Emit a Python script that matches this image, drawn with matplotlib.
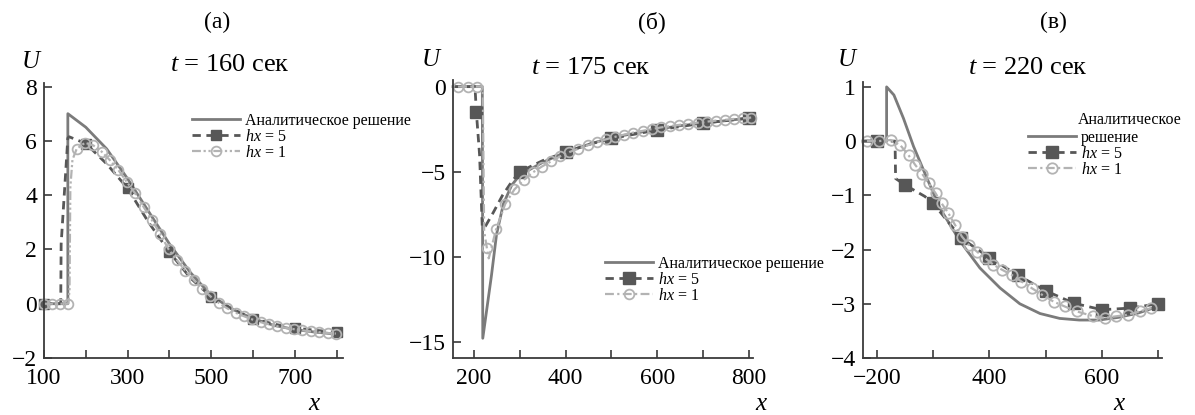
import numpy as np
import matplotlib.pyplot as plt
from matplotlib.lines import Line2D

plt.rcParams['font.family'] = ['Liberation Serif', 'DejaVu Serif']
plt.rcParams['mathtext.fontset'] = 'custom'
plt.rcParams['mathtext.rm'] = 'Liberation Serif'
plt.rcParams['mathtext.it'] = 'Liberation Serif:italic'

# ---- panel (а), t = 160
ana_a_x = [100, 157, 157, 200, 250, 300, 350, 400, 450, 500, 550, 600, 650, 700, 750, 800]
ana_a_y = [0, 0, 7.0, 6.5, 5.7, 4.6, 3.4, 2.2, 1.15, 0.3, -0.2, -0.55, -0.8, -0.95, -1.05, -1.12]
hx5_a_x = [100, 140, 141, 157, 160, 200, 250, 300, 350, 400, 450, 500, 550, 600, 650, 700, 750, 800]
hx5_a_y = [0, 0, 2.2, 6.1, 6.15, 5.9, 5.15, 4.25, 3.0, 1.9, 0.95, 0.25, -0.2, -0.55, -0.75, -0.9, -0.98, -1.05]
hx5_a_marks = [100, 200, 300, 400, 500, 600, 700, 800]
hx1_a_x = [100, 118, 138, 158, 161, 163, 168, 178, 198, 218, 238, 258, 278, 298, 318, 338, 358, 378,
           398, 418, 438, 458, 478, 498, 518, 538, 558, 578, 598, 618, 638, 658, 678, 698, 718, 738,
           758, 778, 798]
hx1_a_y = [0, 0, 0, 0, 0.5, 4.3, 5.3, 5.7, 5.93, 5.83, 5.6, 5.28, 4.92, 4.49, 4.06, 3.57, 3.08, 2.57,
           2.0, 1.6, 1.22, 0.87, 0.55, 0.27, 0.03, -0.17, -0.33, -0.46, -0.58, -0.68, -0.76, -0.83,
           -0.89, -0.94, -0.98, -1.02, -1.05, -1.08, -1.1]
hx1_a_nomark = [161, 163, 168]

# ---- panel (б), t = 175
ana_b_x = [154, 218, 219, 238, 249, 264, 282, 300, 350, 400, 450, 500, 550, 600, 650, 700, 750, 800]
ana_b_y = [0, 0, -14.8, -11.1, -8.7, -6.9, -5.8, -5.2, -4.45, -3.85, -3.4, -3.0, -2.75, -2.5, -2.3,
           -2.15, -2.0, -1.85]
hx5_b_x = [154, 202, 205, 212, 218, 225, 242, 262, 282, 300, 350, 400, 450, 500, 550, 600, 650, 700,
           750, 800]
hx5_b_y = [0, 0, -1.5, -4.0, -8.3, -8.2, -7.4, -6.4, -5.6, -5.0, -4.35, -3.85, -3.4, -3.05, -2.8,
           -2.55, -2.35, -2.15, -2.0, -1.85]
hx5_b_marks = [205, 300, 400, 500, 600, 700, 800]
hx1_b_x = [165, 187, 207, 219, 222, 228, 232, 248, 268, 288, 308, 328, 348, 368, 388, 408, 428, 448,
           468, 488, 508, 528, 548, 568, 588, 608, 628, 648, 668, 688, 708, 728, 748, 768, 788, 805]
hx1_b_y = [0, 0, 0, 0, -8.5, -9.5, -10.1, -8.4, -6.9, -6.05, -5.5, -5.05, -4.7, -4.4, -4.1, -3.85,
           -3.65, -3.45, -3.27, -3.1, -2.95, -2.82, -2.7, -2.6, -2.5, -2.4, -2.32, -2.25, -2.18,
           -2.12, -2.06, -2.0, -1.95, -1.9, -1.86, -1.82]
hx1_b_nomark = [219, 222, 232]

# ---- panel (в), t = 220
ana_c_x = [175, 217, 217, 230, 247, 265, 289, 312, 348, 383, 419, 454, 490, 525, 560, 595, 630, 665, 700]
ana_c_y = [0, 0, 1.0, 0.85, 0.42, -0.1, -0.69, -1.24, -1.85, -2.34, -2.71, -3.0, -3.18, -3.27, -3.3,
           -3.3, -3.25, -3.17, -3.05]
hx5_c_x = [175, 200, 232, 233, 250, 270, 285, 300, 350, 400, 450, 500, 550, 600, 650, 700]
hx5_c_y = [0, 0, 0, -0.69, -0.81, -0.93, -1.02, -1.15, -1.79, -2.15, -2.47, -2.76, -2.99, -3.11,
           -3.08, -3.0]
hx5_c_marks = [200, 250, 300, 350, 400, 450, 500, 550, 600, 650, 700]
hx1_c_x = [182, 203, 224, 241, 256, 268, 280, 292, 304, 315, 327, 339, 351, 363, 378, 392, 407, 422,
           440, 457, 475, 493, 514, 534, 555, 585, 605, 626, 647, 667, 688]
hx1_c_y = [0, 0, 0.02, -0.07, -0.26, -0.44, -0.6, -0.78, -0.96, -1.15, -1.33, -1.55, -1.76, -1.91,
           -2.04, -2.16, -2.28, -2.37, -2.47, -2.59, -2.71, -2.83, -2.96, -3.05, -3.14, -3.23, -3.26,
           -3.23, -3.2, -3.14, -3.08]
hx1_c_nomark = []

W, H = 1195, 415
c_ana = '#7b7b7b'
c_h5 = '#575757'
c_h1 = '#b3b3b3'

fig = plt.figure(figsize=(W / 100, H / 100), dpi=100)


def px(x, y):
    return x / W, 1 - y / H


def panel(box, xlim, ylim, xticks, xlabels, yticks, ana, h5, h5marks, h1, h1nomark, h1dash,
          ms5, ms1, leg_at, ana_label):
    l, t, r, b = box
    ax = fig.add_axes([l / W, 1 - b / H, (r - l) / W, (b - t) / H])
    ax.plot(ana[0], ana[1], color=c_ana, lw=2.0, clip_on=False)
    i5 = np.flatnonzero(np.isin(h5[0], h5marks))
    ax.plot(h5[0], h5[1], color=c_h5, lw=2.0, dashes=(3, 2), marker='s', ms=ms5, mfc=c_h5,
            mec=c_h5, markevery=list(i5), clip_on=False)
    i1 = np.flatnonzero(~np.isin(h1[0], h1nomark))
    ax.plot(h1[0], h1[1], color=c_h1, lw=1.6, dashes=h1dash, marker='o', ms=ms1, mfc='none',
            mec=c_h1, mew=1.3, markevery=list(i1), clip_on=False)
    ax.set_xlim(*xlim)
    ax.set_ylim(*ylim)
    ax.set_xticks(xticks)
    ax.set_xticklabels(xlabels)
    ax.set_yticks(yticks)
    for s in ['top', 'right']:
        ax.spines[s].set_visible(False)
    for s in ['left', 'bottom']:
        ax.spines[s].set_color('#3a3a3a')
        ax.spines[s].set_linewidth(1.3)
    ax.tick_params(direction='in', length=6, width=1.2, color='#3a3a3a', labelsize=17, pad=5)
    ax.tick_params(axis='x', pad=7)

    handles = [
        Line2D([], [], color=c_ana, lw=2.0),
        Line2D([], [], color=c_h5, lw=2.0, dashes=(3, 2), marker='s', ms=ms5, mfc=c_h5, mec=c_h5),
        Line2D([], [], color=c_h1, lw=1.6, dashes=h1dash, marker='o', ms=ms1, mfc='none', mec=c_h1,
               mew=1.3),
    ]
    labels = [ana_label, r'$hx$ = 5', r'$hx$ = 1']
    ax.legend(handles, labels, loc='upper left', bbox_to_anchor=px(*leg_at),
              bbox_transform=fig.transFigure, frameon=False, fontsize=11.5, numpoints=1,
              handlelength=3.0, handletextpad=0.3, labelspacing=0.0, borderpad=0,
              borderaxespad=0)
    return ax


panel((44, 83, 343, 358), (100, 815), (-2, 8.13), [100, 200, 300, 400, 500, 600, 700, 800],
      ['100', '', '300', '', '500', '', '700', ''], [-2, 0, 2, 4, 6, 8],
      (ana_a_x, ana_a_y), (hx5_a_x, hx5_a_y), hx5_a_marks, (hx1_a_x, hx1_a_y), hx1_a_nomark,
      (4, 1.2, 1, 1.2, 1, 1.2), 7.5, 7, (192, 113), 'Аналитическое решение')

panel((453, 80, 753, 358), (154, 809), (-15.96, 0.39), [200, 300, 400, 500, 600, 700, 800],
      ['200', '', '400', '', '600', '', '800'], [-15, -10, -5, 0],
      (ana_b_x, ana_b_y), (hx5_b_x, hx5_b_y), hx5_b_marks, (hx1_b_x, hx1_b_y), hx1_b_nomark,
      (4, 1.5, 1, 1.5), 8, 7, (605, 256), 'Аналитическое решение')

# panel (в): the legend's first label sits on two lines, with the handle next to the lower one
panel((863, 82, 1162, 358), (175, 707), (-4, 1.09), [200, 300, 400, 500, 600, 700],
      ['\u2212200', '', '400', '', '600', ''], [-4, -3, -2, -1, 0, 1],
      (ana_c_x, ana_c_y), (hx5_c_x, hx5_c_y), hx5_c_marks, (hx1_c_x, hx1_c_y), hx1_c_nomark,
      (4, 1.5, 1, 1.5), 8.5, 7.5, (1028, 130), 'решение')
fig.text(*px(1078, 120), 'Аналитическое', ha='left', va='center', fontsize=11.5)

for (x, y, s) in [(217, 22, '(а)'), (652, 22, '(б)'), (1053, 22, '(в)')]:
    fig.text(*px(x, y), s, ha='center', va='center', fontsize=17)
for (x, y, s) in [(230, 65, r'$t$ = 160 сек'), (591, 68, r'$t$ = 175 сек'), (1028, 68, r'$t$ = 220 сек')]:
    fig.text(*px(x, y), s, ha='center', va='center', fontsize=19)
for (x, y) in [(32, 62), (432, 60), (848, 60)]:
    fig.text(*px(x, y), r'$U$', ha='center', va='center', fontsize=18)
for (x, y) in [(315, 404), (762, 404), (1120, 404)]:
    fig.text(*px(x, y), r'$x$', ha='center', va='center', fontsize=18)

fig.savefig('out.png', dpi=100)
